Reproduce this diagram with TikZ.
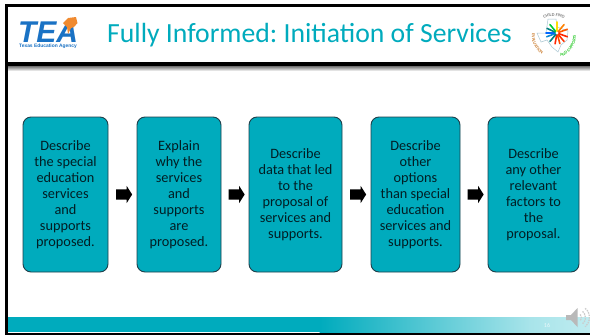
\documentclass[tikz,border=0pt]{standalone}
\usepackage{fontspec}
\setmainfont{Carlito}
\newfontfamily\logofont{Liberation Sans}
\usetikzlibrary{shapes.arrows,decorations.text,calc}
\definecolor{teal1}{HTML}{00ABBD}
\definecolor{teal2}{HTML}{BFECF0}
\definecolor{teal3}{HTML}{A8E4EA}
\definecolor{edge1}{HTML}{1F3F4A}
\definecolor{inktext}{HTML}{021E24}
\definecolor{teablue}{HTML}{1A72C4}
\definecolor{teaorange}{HTML}{F08A30}
\newcommand{\ringfont}{\fontsize{4.4}{5}\selectfont\bfseries}
\tikzset{
  stepbox/.style={draw=edge1,line width=0.9pt,fill=teal1,rounded corners=8pt,inner sep=0pt,
    align=center,text=inktext,font=\fontsize{14.3}{16}\selectfont},
  flowarrow/.style={single arrow,fill=black,draw=none,minimum height=16pt,text width=0pt,
    inner ysep=5pt,inner xsep=0pt,single arrow head extend=3.4pt,single arrow tip angle=115}
}
\begin{document}
\frenchspacing
\begin{tikzpicture}[x=1pt,y=-1pt]
\useasboundingbox (0,0) rectangle (590,335);
\fill[white] (0,0) rectangle (590,335);
% bottom band
\fill[teal1] (8,317) rectangle (320,332);
\shade[left color=teal1,right color=teal3] (319.5,317) rectangle (530,332);
\shade[left color=teal3,right color=teal2] (529.5,317) rectangle (590,332);
\node (pageno) at (547,325.5) [text=white,font=\fontsize{6}{7}\selectfont,opacity=.75] {16};
% frame
\fill[black] (5,4) rectangle (590,7);
\fill[black] (5,4) rectangle (8,335);
\fill[black] (5,333) rectangle (590,335);
% header rule with shadow
\shade[top color=black,bottom color=white] (8,62) rectangle (590,71);
\fill[black] (8,63) rectangle (590,66);
% TEA logo
\node (tea) at (48,42) [anchor=base,text=teablue,font=\logofont\fontsize{30}{30}\selectfont\bfseries\itshape,inner sep=0pt] {TEA};
\fill[white] (63,17) rectangle (78,24);
\fill[teaorange] (63,23) -- (68,18) -- (76,17) -- (77.5,23) -- (74,27) -- (71,28) -- (68,34) -- (67,27) -- cycle;
\node (teasub) at (48,46.3) [text=teablue,font=\logofont\fontsize{4.9}{5}\selectfont\bfseries,inner sep=0pt] {Texas Education Agency};
% title
\node (title) at (309.5,35) [text=teal1,font=\fontsize{27.7}{30}\selectfont,inner sep=0pt] {Fully Informed: Initiation of Services};
% child find seal
\draw[cyan!35!gray!60,line width=.5pt] (537,33) -- (546,33) -- (548,19) -- (556,19) -- (557,27) -- (568,31) -- (567,40) -- (561,45) -- (558,52) -- (552,47) -- (547,40) -- (541,42) -- cycle;
\foreach \a/\c in {160/cyan!70!blue,180/blue!60!cyan,205/teal,230/green!60!teal,270/yellow!80!orange,310/orange,340/orange!70!red,20/red!70!orange,50/red!60!orange,75/orange!60!red,100/red!70!orange,130/teal}{
  \draw[\c,line width=1.6pt,line cap=round] (557,33) -- ++(\a:11);
}
\fill[white] (557,33) circle (1.6);
\path[decorate,decoration={text along path,text align=center,
  text={|\ringfont\color{gray}|CHILD FIND}}] (534.7,30.8) arc[start angle=195,end angle=345,radius=20];
\path[decorate,decoration={text along path,text align=center,
  text={|\ringfont\color{orange!60!gray}|EVALUATION}}] (532.7,30.3) arc[start angle=195,end angle=115,radius=22];
\path[decorate,decoration={text along path,text align=center,
  text={|\ringfont\color{green!60!gray}|AND SUPPORTS}}] (555.9,57.9) arc[start angle=85,end angle=-15,radius=22];
% boxes
\node[stepbox,minimum width=85pt,minimum height=155pt] (b1) at (65.5,194.5) {Describe\\the special\\education\\services\\and\\supports\\proposed.};
\node[stepbox,minimum width=84pt,minimum height=155pt] (b2) at (179,194.5) {Explain\\why the\\services\\and\\supports\\are\\proposed.};
\node[stepbox,minimum width=93pt,minimum height=155pt] (b3) at (295.5,194.5) {Describe\\data that led\\to the\\proposal of\\services and\\supports.};
\node[stepbox,minimum width=89pt,minimum height=155pt] (b4) at (415.5,194.5) {Describe\\other\\options\\than special\\education\\services and\\supports.};
\node[stepbox,minimum width=91pt,minimum height=155pt] (b5) at (533.5,194.5) {Describe\\any other\\relevant\\factors to\\the\\proposal.};
% arrows
\path (b1.east) -- node[flowarrow] (a1) {} (b2.west);
\path (b2.east) -- node[flowarrow] (a2) {} (b3.west);
\path (b3.east) -- node[flowarrow] (a3) {} (b4.west);
\path (b4.east) -- node[flowarrow] (a4) {} (b5.west);
% speaker
\fill[gray!55] (566,315) -- (571,315) -- (577.5,308) -- (577.5,327) -- (571,320) -- (566,320) -- cycle;
\foreach \r in {4,8,12}{
  \draw[gray!40,line width=1.3pt,dash pattern=on 1.5pt off 1pt] ($(577.5,317.5)+(-50:\r)$) arc[start angle=-50,end angle=50,radius=\r];
}
\end{tikzpicture}
\end{document}
